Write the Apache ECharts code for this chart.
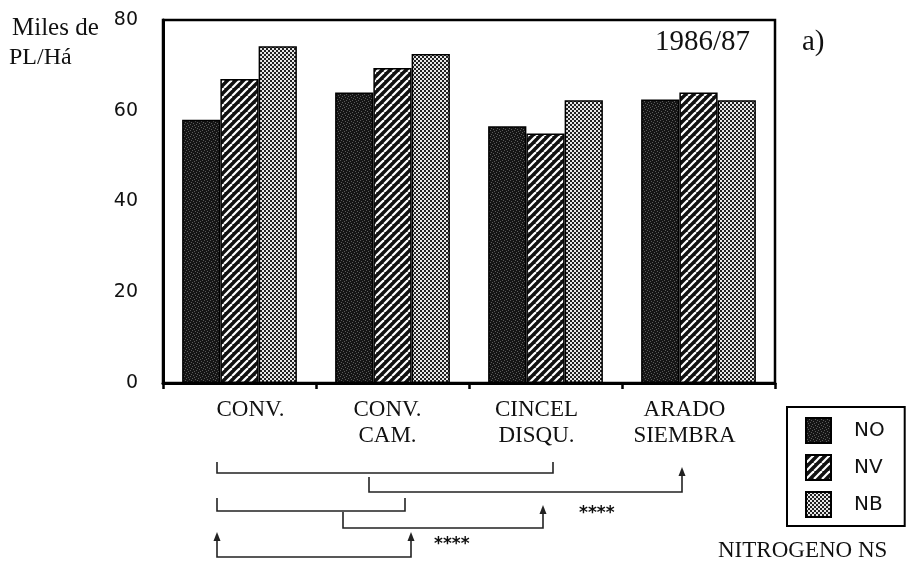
<!DOCTYPE html>
<html>
<head>
<meta charset="utf-8">
<script src="https://cdn.jsdelivr.net/npm/echarts@6/dist/echarts.min.js"></script>
<style>
  html, body { margin: 0; padding: 0; background: #fff; }
  #chart { width: 908px; height: 562px; }
</style>
</head>
<body>
<div id="chart"></div>
<script>
// Tillage systems (x categories) and plant density per nitrogen treatment
var categories = ['CONV.', 'CONV.\nCAM.', 'CINCEL\nDISQU.', 'ARADO\nSIEMBRA'];
var seriesNames = ['NO', 'NV', 'NB'];
var valuesNO = [58, 64, 56.6, 62.5];
var valuesNV = [67, 69.4, 55, 64];
var valuesNB = [74.2, 72.5, 62.3, 62.3];
var yTicks = [0, 20, 40, 60, 80];

var SERIF = "'Liberation Serif', 'Times New Roman', serif";
var SANS = "'DejaVu Sans', sans-serif";
var INK = '#111';

// Fill textures for the three treatments
function speckle() {
  var c = document.createElement('canvas');
  c.width = 6; c.height = 6;
  var g = c.getContext('2d');
  g.fillStyle = '#151515'; g.fillRect(0, 0, 6, 6);
  g.fillStyle = '#5a5a5a';
  [[0,0],[3,1],[1,3],[4,4],[2,5],[5,2]].forEach(function (p) { g.fillRect(p[0], p[1], 1, 1); });
  return c;
}
function stripes() {
  var c = document.createElement('canvas');
  c.width = 8; c.height = 8;
  var g = c.getContext('2d');
  g.fillStyle = '#111'; g.fillRect(0, 0, 8, 8);
  g.strokeStyle = '#fff'; g.lineWidth = 2.2;
  [-8, 0, 8].forEach(function (o) {
    g.beginPath(); g.moveTo(o, 8); g.lineTo(o + 8, 0); g.stroke();
  });
  return c;
}
function checks() {
  var c = document.createElement('canvas');
  c.width = 4; c.height = 4;
  var g = c.getContext('2d');
  g.fillStyle = '#222'; g.fillRect(0, 0, 4, 4);
  g.fillStyle = '#e8e8e8';
  g.fillRect(0, 0, 2, 2); g.fillRect(2, 2, 2, 2);
  return c;
}
var fills = [speckle(), stripes(), checks()];
var seriesValues = [valuesNO, valuesNV, valuesNB];

// Per-category horizontal nudges of the x labels
var labelPad = [[0, 0, 0, 22], [0, 10, 0, 0], [0, 18, 0, 0], [0, 28, 0, 0]];
var rich = {};
labelPad.forEach(function (p, i) {
  rich['c' + i] = { fontFamily: SERIF, fontSize: 23, lineHeight: 26, color: INK, padding: p, align: 'center' };
});

function bracket(points) {
  return { type: 'polyline', shape: { points: points }, style: { stroke: '#222', lineWidth: 1.6, fill: null } };
}
function arrowUp(x, y) {
  return { type: 'polygon', shape: { points: [[x - 3.5, y + 9], [x, y], [x + 3.5, y + 9]] }, style: { fill: '#222' } };
}

var chart = echarts.init(document.getElementById('chart'), null, { renderer: 'canvas' });
chart.setOption({
  animation: false,
  backgroundColor: '#fff',
  grid: { left: 163, right: 133, top: 20, bottom: 179, show: true, borderColor: '#000', borderWidth: 2.5 },
  xAxis: {
    type: 'category',
    data: categories,
    axisLine: { lineStyle: { color: '#000', width: 3 } },
    axisTick: { show: true, length: 6, lineStyle: { color: '#000', width: 2.5 } },
    axisLabel: {
      margin: 14,
      formatter: function (v, i) {
        return v.split('\n').map(function (s) { return '{c' + i + '|' + s + '}'; }).join('\n');
      },
      rich: rich
    }
  },
  yAxis: {
    type: 'value',
    min: yTicks[0],
    max: yTicks[yTicks.length - 1],
    interval: 20,
    splitLine: { show: false },
    axisTick: { show: false },
    axisLine: { show: true, lineStyle: { color: '#000', width: 3 } },
    axisLabel: { margin: 25, fontFamily: SANS, fontSize: 19, color: INK }
  },
  legend: {
    data: seriesNames,
    orient: 'vertical',
    left: 787,
    top: 407,
    padding: [10, 20, 8, 18],
    itemWidth: 25,
    itemHeight: 25,
    itemGap: 10,
    icon: 'rect',
    borderColor: '#000',
    borderWidth: 2,
    textStyle: { fontFamily: SANS, fontSize: 20, color: INK, padding: [0, 0, 0, 18] }
  },
  series: seriesNames.map(function (name, k) {
    return {
      name: name,
      type: 'bar',
      data: seriesValues[k],
      barGap: '0%',
      barCategoryGap: '25%',
      itemStyle: { color: { image: fills[k], repeat: 'repeat' }, borderColor: '#000', borderWidth: 1.5 }
    };
  }),
  graphic: [
    { type: 'text', left: 12, top: 16, style: { text: 'Miles de', font: '25px ' + SERIF, fill: INK } },
    { type: 'text', left: 9, top: 46, style: { text: 'PL/Há', font: '24px ' + SERIF, fill: INK } },
    { type: 'text', left: 655, top: 28, style: { text: '1986/87', font: '29px ' + SERIF, fill: INK } },
    { type: 'text', left: 802, top: 28, style: { text: 'a)', font: '29px ' + SERIF, fill: INK } },
    { type: 'text', left: 718, top: 539, style: { text: 'NITROGENO NS', font: '23px ' + SERIF, fill: INK } },
    bracket([[217, 462], [217, 473], [553, 473], [553, 462]]),
    bracket([[369, 477], [369, 492], [682, 492], [682, 472]]),
    arrowUp(682, 467),
    bracket([[217, 498], [217, 511], [405, 511], [405, 498]]),
    bracket([[343, 512], [343, 528], [543, 528], [543, 510]]),
    arrowUp(543, 505),
    bracket([[217, 537], [217, 557], [411, 557], [411, 537]]),
    arrowUp(217, 532),
    arrowUp(411, 532),
    { type: 'text', left: 579, top: 505, style: { text: '****', font: 'bold 17px ' + SANS, fill: INK } },
    { type: 'text', left: 434, top: 536, style: { text: '****', font: 'bold 17px ' + SANS, fill: INK } }
  ]
});
</script>
</body>
</html>
